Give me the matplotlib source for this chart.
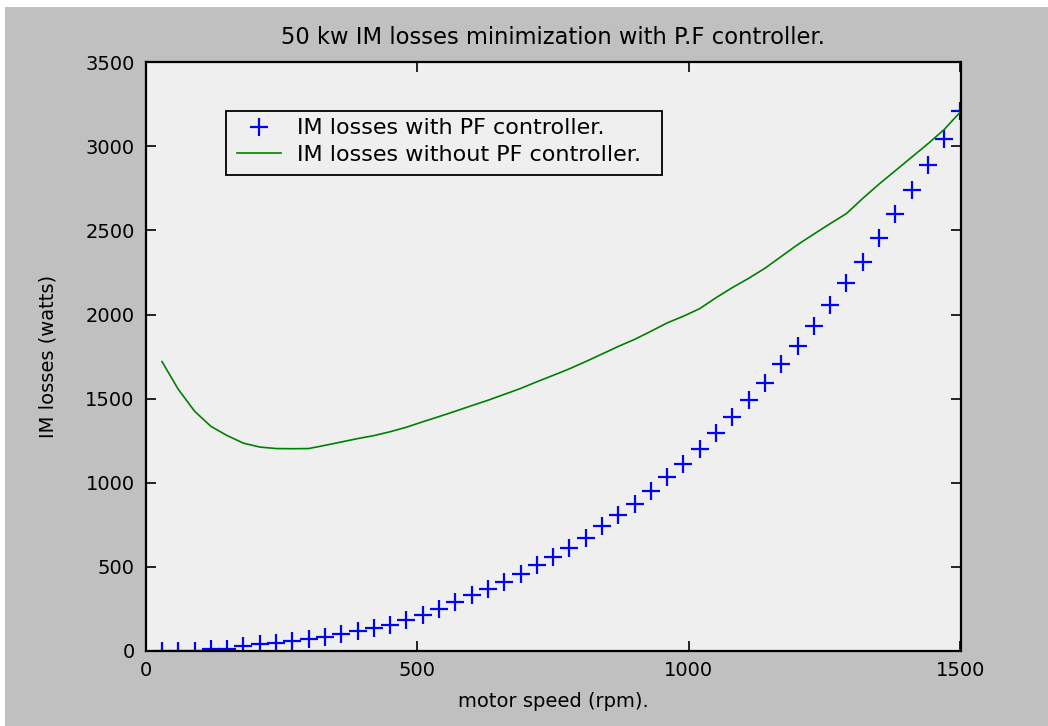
import matplotlib
matplotlib.use("Agg")
import matplotlib.pyplot as plt
from matplotlib.patches import Rectangle

speed = [30, 60, 90, 120, 150, 180, 210, 240, 270, 300,
         330, 360, 390, 420, 450, 480, 510, 540, 570, 600,
         630, 660, 690, 720, 750, 780, 810, 840, 870, 900,
         930, 960, 990, 1020, 1050, 1080, 1110, 1140, 1170, 1200,
         1230, 1260, 1290, 1320, 1350, 1380, 1410, 1440, 1470, 1500]

loss_with_pf = [0, 0, 2, 10, 14, 28, 40, 48, 60, 70,
                82, 100, 120, 138, 155, 183, 215, 252, 292, 330,
                368, 408, 456, 508, 559, 612, 673, 740, 806, 875,
                953, 1032, 1113, 1203, 1298, 1388, 1492, 1595, 1706, 1815,
                1931, 2054, 2187, 2312, 2455, 2598, 2740, 2891, 3046, 3212]

loss_without_pf = [1720, 1555, 1425, 1335, 1280, 1235, 1212, 1203, 1202, 1203,
                   1222, 1242, 1262, 1280, 1303, 1330, 1362, 1393, 1425, 1458,
                   1490, 1525, 1560, 1600, 1638, 1677, 1720, 1765, 1810, 1852,
                   1900, 1950, 1990, 2035, 2100, 2160, 2215, 2275, 2345, 2415,
                   2478, 2540, 2600, 2690, 2775, 2855, 2935, 3015, 3100, 3205]

x_ticks = [0, 500, 1000, 1500]
y_ticks = [0, 500, 1000, 1500, 2000, 2500, 3000, 3500]

title = "50 kw IM losses minimization with P.F controller."
xlabel = "motor speed (rpm)."
ylabel = "IM losses (watts)"
labels = ["IM losses with PF controller.", "IM losses without PF controller."]

plt.rcParams['font.family'] = ['DejaVu Sans']
FS = 14

W, H = 1048, 726
fig = plt.figure(figsize=(W / 100, H / 100), dpi=100, facecolor='#c0c0c0')
# white strip at top and left edges
fig.patches.append(Rectangle((0, 1 - 7 / H), 1, 7 / H, transform=fig.transFigure,
                             facecolor='white', edgecolor='none', zorder=-10))
fig.patches.append(Rectangle((0, 0), 5 / W, 1, transform=fig.transFigure,
                             facecolor='white', edgecolor='none', zorder=-10))

left, right, bottom, top = 145.7, 960.5, 650.9, 62.2
ax = fig.add_axes([left / W, 1 - bottom / H, (right - left) / W, (bottom - top) / H])
ax.set_facecolor('#efefef')

ax.plot(speed, loss_with_pf, linestyle='none', marker='+', color='#0000ff',
        markersize=12.5, markeredgewidth=1.6, label=labels[0])
ax.plot(speed, loss_without_pf, color='#008000', linewidth=1.2, label=labels[1])

ax.set_xlim(0, 1500)
ax.set_ylim(0, 3500)
ax.set_xticks(x_ticks)
ax.set_yticks(y_ticks)
ax.tick_params(direction='in', length=7, width=1.2, top=True, right=True,
               labelsize=FS, colors='black')
ax.tick_params(axis='x', pad=7)
ax.tick_params(axis='y', pad=8)
for s in ax.spines.values():
    s.set_linewidth(1.6)
    s.set_color('black')

ax.set_title(title, fontsize=16.3, pad=13)
ax.set_xlabel(xlabel, fontsize=FS, labelpad=9)
ax.set_ylabel(ylabel, fontsize=FS, labelpad=20)

# legend box (frame drawn separately to match the reference's wider box)
def fx(px):
    return (px - left) / (right - left)

def fy(py):
    return (bottom - py) / (bottom - top)

bx0, bx1, by0, by1 = 226, 662, 110.7, 175
ax.add_patch(Rectangle((fx(bx0), fy(by1)), fx(bx1) - fx(bx0), fy(by0) - fy(by1),
                       transform=ax.transAxes, facecolor='#efefef', edgecolor='black',
                       linewidth=1.3, zorder=4))
leg = ax.legend(loc='upper left', bbox_to_anchor=(fx(bx0 + 4), fy(by0 + 1)),
                borderaxespad=0, fontsize=16, frameon=False,
                handlelength=2.0, handletextpad=0.7, borderpad=0.3,
                labelspacing=0.3)
leg.set_zorder(5)

fig.savefig('out.png', dpi=100, facecolor=fig.get_facecolor())
